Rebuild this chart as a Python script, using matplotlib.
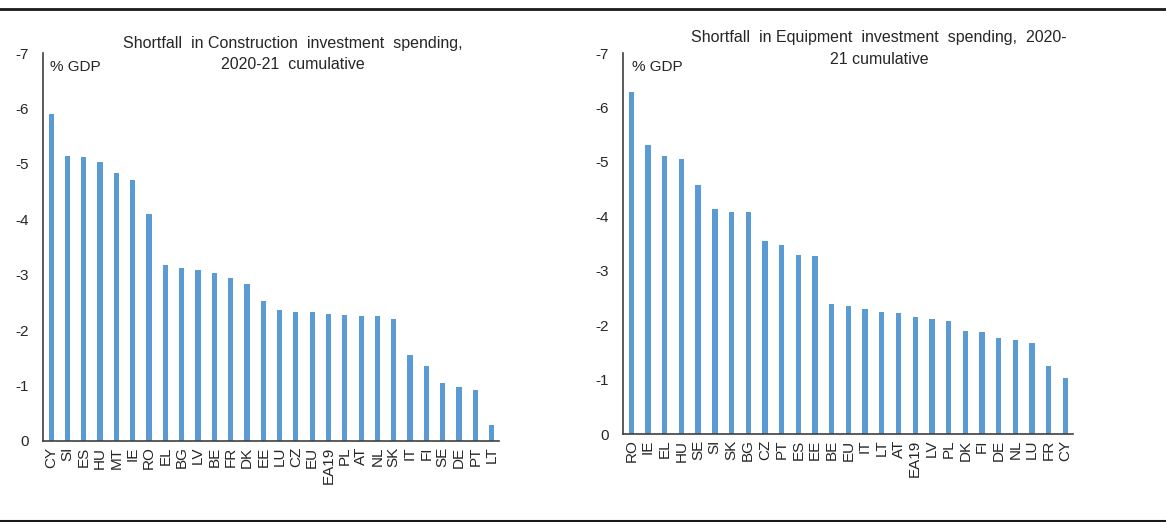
import matplotlib
matplotlib.use("Agg")
import matplotlib.pyplot as plt
from matplotlib.lines import Line2D

plt.rcParams['font.family'] = ['Liberation Sans', 'DejaVu Sans']

# construction shortfall, % GDP (2020-21 cumulative)
constr_countries = ["CY", "SI", "ES", "HU", "MT", "IE", "RO", "EL", "BG", "LV",
                    "BE", "FR", "DK", "EE", "LU", "CZ", "EU", "EA19", "PL", "AT",
                    "NL", "SK", "IT", "FI", "SE", "DE", "PT", "LT"]
constr_values = [-5.90, -5.15, -5.12, -5.04, -4.84, -4.70, -4.09, -3.18, -3.13, -3.08,
                 -3.03, -2.94, -2.84, -2.52, -2.36, -2.33, -2.33, -2.30, -2.28, -2.25,
                 -2.25, -2.20, -1.56, -1.35, -1.05, -0.98, -0.92, -0.29]

# equipment shortfall, % GDP (2020-21 cumulative)
equip_countries = ["RO", "IE", "EL", "HU", "SE", "SI", "SK", "BG", "CZ", "PT",
                   "ES", "EE", "BE", "EU", "IT", "LT", "AT", "EA19", "LV", "PL",
                   "DK", "FI", "DE", "NL", "LU", "FR", "CY"]
equip_values = [-6.28, -5.31, -5.11, -5.05, -4.57, -4.13, -4.08, -4.08, -3.55, -3.47,
                -3.29, -3.27, -2.39, -2.35, -2.30, -2.25, -2.23, -2.15, -2.12, -2.07,
                -1.90, -1.87, -1.77, -1.72, -1.68, -1.25, -1.03]

bar_color = "#5B9BD5"
txt_color = "#262626"
W, H = 1166, 522

fig = plt.figure(figsize=(W / 100, H / 100), dpi=100)

def px_axes(x0, x1, ytop, ybot):
    return fig.add_axes([x0 / W, 1 - ybot / H, (x1 - x0) / W, (ybot - ytop) / H])

def draw_panel(ax, cats, vals):
    ax.bar(range(len(cats)), vals, width=0.32, color=bar_color)
    ax.set_ylim(-7, 0)
    ax.invert_yaxis()
    ax.set_xlim(-0.5, len(cats) - 0.55)
    ax.set_yticks(range(-7, 1))
    ax.set_yticklabels([str(v) for v in range(-7, 1)], fontsize=11, color=txt_color)
    ax.set_xticks(range(len(cats)))
    ax.set_xticklabels(cats, rotation=90, fontsize=11, color=txt_color)
    ax.tick_params(axis='y', length=0, pad=10)
    ax.tick_params(axis='x', length=0, pad=4)
    for s in ["top", "right"]:
        ax.spines[s].set_visible(False)
    for s in ["left", "bottom"]:
        ax.spines[s].set_color("#404040")
        ax.spines[s].set_linewidth(1.2)

ax1 = px_axes(43, 499, 53, 441)
draw_panel(ax1, constr_countries, constr_values)

ax2 = px_axes(623, 1073, 53, 434)
draw_panel(ax2, equip_countries, equip_values)

# titles and unit labels
fig.text(293 / W, 1 - 54 / H, "Shortfall  in Construction  investment  spending,\n2020-21  cumulative",
         ha='center', va='center', fontsize=11.5, color=txt_color, linespacing=1.55)
fig.text(879 / W, 1 - 48.5 / H, "Shortfall  in Equipment  investment  spending,  2020-\n21 cumulative",
         ha='center', va='center', fontsize=11.5, color=txt_color, linespacing=1.55)
fig.text(50 / W, 1 - 67 / H, "% GDP", ha='left', va='center', fontsize=11, color=txt_color)
fig.text(632 / W, 1 - 67 / H, "% GDP", ha='left', va='center', fontsize=11, color=txt_color)

# frame lines top and bottom
fig.add_artist(Line2D([0, 1], [1 - 9 / H, 1 - 9 / H], transform=fig.transFigure,
                      color="#1a1a1a", linewidth=2))
fig.add_artist(Line2D([0, 1], [1 - 520.5 / H, 1 - 520.5 / H], transform=fig.transFigure,
                      color="#1a1a1a", linewidth=1.5))

fig.savefig("out.png", dpi=100)
